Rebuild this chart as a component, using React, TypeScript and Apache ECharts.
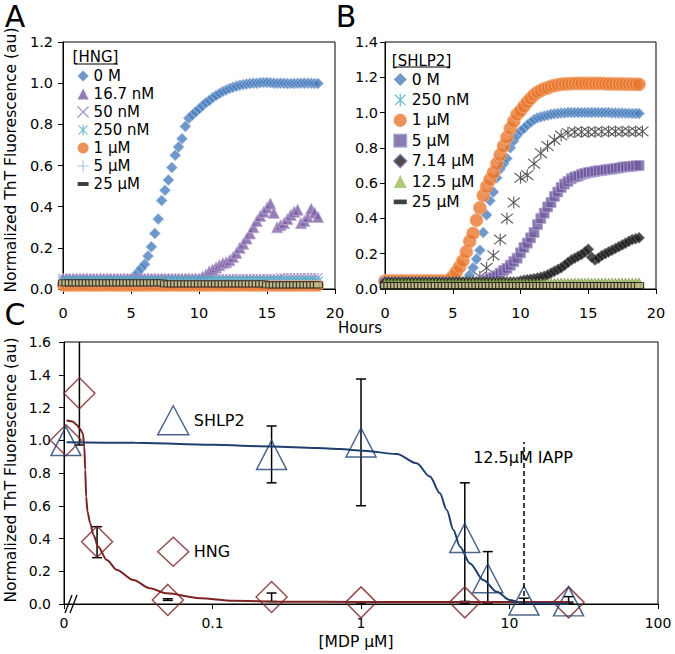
import React, { useEffect, useRef } from 'react';
import * as echarts from 'echarts';

const FONT = '"DejaVu Sans", "Liberation Sans", Arial, sans-serif';

// ---------- Panel A / B time grids (hours) ----------
const T_QUARTER = [
  0, 0.25, 0.5, 0.75, 1, 1.25, 1.5, 1.75, 2, 2.25,
  2.5, 2.75, 3, 3.25, 3.5, 3.75, 4, 4.25, 4.5, 4.75,
  5, 5.25, 5.5, 5.75, 6, 6.25, 6.5, 6.75, 7, 7.25,
  7.5, 7.75, 8, 8.25, 8.5, 8.75, 9, 9.25, 9.5, 9.75,
  10, 10.25, 10.5, 10.75, 11, 11.25, 11.5, 11.75, 12, 12.25,
  12.5, 12.75, 13, 13.25, 13.5, 13.75, 14, 14.25, 14.5, 14.75,
  15, 15.25, 15.5, 15.75, 16, 16.25, 16.5, 16.75, 17, 17.25,
  17.5, 17.75, 18, 18.25, 18.5, 18.75,
];
const T_HALF = [
  0, 0.5, 1, 1.5, 2, 2.5, 3, 3.5, 4, 4.5,
  5, 5.5, 6, 6.5, 7, 7.5, 8, 8.5, 9, 9.5,
  10, 10.5, 11, 11.5, 12, 12.5, 13, 13.5, 14, 14.5,
  15, 15.5, 16, 16.5, 17, 17.5, 18, 18.5, 19,
];

// ---------- Panel A : [HNG] ----------
const A_0M = [
  0.03, 0.03, 0.03, 0.03, 0.03, 0.03, 0.03, 0.03, 0.03, 0.03,
  0.03, 0.03, 0.03, 0.03, 0.03, 0.03, 0.03, 0.03, 0.03, 0.03,
  0.04, 0.06, 0.08, 0.10, 0.12, 0.16, 0.205, 0.27, 0.34, 0.43,
  0.48, 0.53, 0.59, 0.65, 0.69, 0.73, 0.79, 0.83, 0.845, 0.86,
  0.875, 0.89, 0.905, 0.915, 0.93, 0.94, 0.95, 0.96, 0.967, 0.974,
  0.98, 0.985, 0.99, 0.993, 0.996, 0.998, 1.0, 1.0, 1.002, 1.003,
  1.003, 1.002, 1.0, 1.0, 1.0, 0.999, 0.998, 0.998, 0.998, 0.999,
  1.0, 1.0, 1.0, 0.999, 0.998, 0.998,
];
const A_16_7NM = [
  0.05, 0.05, 0.05, 0.05, 0.05, 0.05, 0.05, 0.05, 0.05, 0.05,
  0.05, 0.05, 0.05, 0.05, 0.05, 0.05, 0.05, 0.05, 0.05, 0.05,
  0.05, 0.05, 0.05, 0.05, 0.05, 0.05, 0.05, 0.05, 0.05, 0.05,
  0.05, 0.05, 0.05, 0.05, 0.05, 0.05, 0.05, 0.05, 0.05, 0.05,
  0.05, 0.06, 0.07, 0.085, 0.095, 0.105, 0.115, 0.125, 0.13, 0.14,
  0.155, 0.175, 0.2, 0.22, 0.245, 0.27, 0.3, 0.33, 0.355, 0.375,
  0.395, 0.415, 0.37, 0.30, 0.31, 0.32, 0.34, 0.36, 0.375, 0.385,
  0.32, 0.33, 0.35, 0.39, 0.37, 0.35,
];
const A_50NM = [
  0.05, 0.05, 0.05, 0.05, 0.05, 0.05, 0.05, 0.05, 0.05, 0.05,
  0.05, 0.05, 0.05, 0.05, 0.05, 0.05, 0.05, 0.05, 0.05, 0.05,
  0.05, 0.05, 0.05, 0.05, 0.05, 0.05, 0.05, 0.05, 0.05, 0.05,
  0.05, 0.05, 0.05, 0.05, 0.05, 0.05, 0.05, 0.05, 0.05, 0.05,
  0.05, 0.05, 0.05, 0.05, 0.05, 0.05, 0.05, 0.05, 0.05, 0.05,
  0.05, 0.05, 0.05, 0.05, 0.05, 0.05, 0.05, 0.05, 0.05, 0.05,
  0.05, 0.05, 0.05, 0.05, 0.055, 0.055, 0.055, 0.055, 0.055, 0.055,
  0.055, 0.055, 0.055, 0.055, 0.055, 0.055,
];
const A_250NM = [
  0.04, 0.04, 0.04, 0.04, 0.04, 0.04, 0.04, 0.04, 0.04, 0.04,
  0.04, 0.04, 0.04, 0.04, 0.04, 0.04, 0.04, 0.04, 0.04, 0.04,
  0.04, 0.04, 0.04, 0.04, 0.04, 0.04, 0.04, 0.04, 0.04, 0.04,
  0.04, 0.04, 0.04, 0.04, 0.04, 0.04, 0.04, 0.04, 0.04, 0.04,
  0.04, 0.04, 0.04, 0.04, 0.04, 0.04, 0.04, 0.04, 0.04, 0.04,
  0.04, 0.04, 0.04, 0.04, 0.04, 0.04, 0.04, 0.04, 0.04, 0.04,
  0.04, 0.04, 0.04, 0.04, 0.04, 0.04, 0.04, 0.04, 0.04, 0.04,
  0.04, 0.04, 0.04, 0.04, 0.04, 0.04,
];
const A_1UM = [
  0.015, 0.015, 0.015, 0.015, 0.015, 0.015, 0.015, 0.015, 0.015, 0.015,
  0.015, 0.015, 0.015, 0.015, 0.015, 0.015, 0.015, 0.015, 0.015, 0.015,
  0.015, 0.015, 0.015, 0.015, 0.015, 0.015, 0.015, 0.015, 0.015, 0.015,
  0.015, 0.015, 0.015, 0.015, 0.015, 0.015, 0.015, 0.015, 0.015, 0.015,
  0.015, 0.015, 0.015, 0.015, 0.015, 0.015, 0.015, 0.015, 0.015, 0.015,
  0.015, 0.015, 0.015, 0.015, 0.015, 0.015, 0.015, 0.015, 0.015, 0.015,
  0.015, 0.015, 0.015, 0.015, 0.015, 0.015, 0.015, 0.015, 0.015, 0.015,
  0.015, 0.015, 0.015, 0.015, 0.015, 0.015,
];
const A_5UM = [
  0.03, 0.03, 0.03, 0.03, 0.03, 0.03, 0.03, 0.03, 0.03, 0.03,
  0.03, 0.03, 0.03, 0.03, 0.03, 0.03, 0.03, 0.03, 0.03, 0.03,
  0.03, 0.03, 0.03, 0.03, 0.03, 0.03, 0.03, 0.03, 0.03, 0.03,
  0.03, 0.03, 0.03, 0.03, 0.03, 0.03, 0.03, 0.03, 0.03, 0.03,
  0.03, 0.03, 0.03, 0.03, 0.03, 0.03, 0.03, 0.03, 0.03, 0.03,
  0.03, 0.03, 0.03, 0.03, 0.03, 0.03, 0.03, 0.03, 0.03, 0.03,
  0.03, 0.03, 0.03, 0.03, 0.03, 0.03, 0.03, 0.03, 0.03, 0.03,
  0.03, 0.03, 0.03, 0.03, 0.03, 0.03,
];
const A_25UM = [
  0.03, 0.03, 0.03, 0.03, 0.03, 0.03, 0.03, 0.03, 0.03, 0.03,
  0.03, 0.03, 0.03, 0.03, 0.03, 0.03, 0.03, 0.03, 0.03, 0.03,
  0.03, 0.03, 0.03, 0.03, 0.03, 0.03, 0.03, 0.03, 0.03, 0.03,
  0.025, 0.025, 0.025, 0.025, 0.025, 0.025, 0.025, 0.025, 0.025, 0.025,
  0.025, 0.025, 0.025, 0.025, 0.025, 0.025, 0.025, 0.025, 0.025, 0.025,
  0.025, 0.025, 0.025, 0.025, 0.025, 0.025, 0.025, 0.025, 0.025, 0.025,
  0.02, 0.02, 0.02, 0.02, 0.02, 0.02, 0.02, 0.02, 0.02, 0.02,
  0.02, 0.02, 0.02, 0.02, 0.02, 0.02,
];

// ---------- Panel B : [SHLP2] ----------
const B_0M = [
  0.035, 0.035, 0.035, 0.035, 0.035, 0.035, 0.035, 0.035, 0.035, 0.035,
  0.035, 0.035, 0.035, 0.035, 0.035, 0.035, 0.035, 0.035, 0.035, 0.035,
  0.035, 0.035, 0.035, 0.035, 0.05, 0.08, 0.12, 0.17, 0.22, 0.32,
  0.42, 0.5, 0.55, 0.63, 0.68, 0.71, 0.74, 0.8, 0.84, 0.87,
  0.895, 0.91, 0.93, 0.945, 0.96, 0.97, 0.975, 0.98, 0.985, 0.99,
  0.993, 0.995, 0.997, 0.998, 1.0, 1.0, 1.0, 1.0, 1.0, 1.0,
  1.0, 1.0, 1.0, 1.0, 1.0, 1.0, 1.0, 0.998, 0.998, 0.997,
  0.997, 0.996, 0.996, 0.995, 0.995, 0.995,
];
const B_250NM = [
  0.035, 0.035, 0.035, 0.035, 0.035, 0.035, 0.035, 0.035, 0.035, 0.035,
  0.035, 0.035, 0.035, 0.04, 0.07, 0.12, 0.19, 0.28, 0.40, 0.49,
  0.63, 0.645, 0.71, 0.77, 0.81, 0.845, 0.87, 0.885, 0.89, 0.89,
  0.89, 0.89, 0.892, 0.893, 0.893, 0.893, 0.893, 0.893, 0.893,
];
const B_1UM = [
  0.045, 0.045, 0.045, 0.045, 0.045, 0.045, 0.045, 0.045, 0.045, 0.045,
  0.045, 0.045, 0.045, 0.045, 0.045, 0.045, 0.045, 0.045, 0.045, 0.05,
  0.07, 0.095, 0.125, 0.16, 0.21, 0.27, 0.315, 0.39, 0.46, 0.53,
  0.58, 0.62, 0.66, 0.71, 0.76, 0.81, 0.86, 0.91, 0.95, 0.99,
  1.01, 1.035, 1.06, 1.08, 1.10, 1.115, 1.125, 1.135, 1.14, 1.148,
  1.153, 1.157, 1.16, 1.162, 1.163, 1.164, 1.165, 1.165, 1.165, 1.165,
  1.165, 1.165, 1.165, 1.165, 1.165, 1.164, 1.163, 1.163, 1.162, 1.162,
  1.162, 1.161, 1.161, 1.16, 1.16, 1.16,
];
const B_5UM = [
  0.035, 0.035, 0.035, 0.035, 0.035, 0.035, 0.035, 0.035, 0.035, 0.035,
  0.035, 0.035, 0.035, 0.035, 0.035, 0.035, 0.035, 0.035, 0.035, 0.035,
  0.035, 0.035, 0.035, 0.035, 0.035, 0.035, 0.035, 0.037, 0.04, 0.045,
  0.05, 0.06, 0.065, 0.075, 0.09, 0.105, 0.117, 0.135, 0.155, 0.175,
  0.205, 0.235, 0.26, 0.29, 0.32, 0.365, 0.4, 0.43, 0.465, 0.49,
  0.525, 0.55, 0.575, 0.595, 0.61, 0.625, 0.635, 0.64, 0.65, 0.655,
  0.66, 0.663, 0.667, 0.67, 0.672, 0.675, 0.678, 0.68, 0.683, 0.686,
  0.69, 0.692, 0.694, 0.696, 0.698, 0.70,
];
const B_7_14UM = [
  0.04, 0.04, 0.04, 0.04, 0.04, 0.04, 0.04, 0.04, 0.04, 0.04,
  0.04, 0.04, 0.04, 0.04, 0.04, 0.04, 0.04, 0.04, 0.04, 0.04,
  0.04, 0.04, 0.04, 0.04, 0.04, 0.04, 0.04, 0.04, 0.04, 0.04,
  0.04, 0.04, 0.04, 0.04, 0.04, 0.04, 0.04, 0.04, 0.04, 0.04,
  0.045, 0.05, 0.052, 0.055, 0.058, 0.062, 0.067, 0.072, 0.08, 0.09,
  0.1, 0.11, 0.12, 0.135, 0.15, 0.165, 0.175, 0.185, 0.195, 0.21,
  0.225, 0.18, 0.165, 0.175, 0.19, 0.2, 0.21, 0.22, 0.23, 0.24,
  0.25, 0.26, 0.27, 0.28, 0.285, 0.29,
];
const B_12_5UM = [
  0.03, 0.03, 0.03, 0.03, 0.03, 0.03, 0.03, 0.03, 0.03, 0.03,
  0.03, 0.03, 0.03, 0.03, 0.03, 0.03, 0.03, 0.03, 0.03, 0.03,
  0.03, 0.03, 0.03, 0.03, 0.03, 0.03, 0.03, 0.03, 0.03, 0.03,
  0.03, 0.03, 0.03, 0.03, 0.03, 0.03, 0.03, 0.03, 0.03, 0.03,
  0.03, 0.03, 0.03, 0.03, 0.03, 0.03, 0.03, 0.03, 0.03, 0.03,
  0.033, 0.033, 0.033, 0.033, 0.033, 0.033, 0.033, 0.033, 0.033, 0.033,
  0.033, 0.033, 0.033, 0.033, 0.033, 0.033, 0.033, 0.033, 0.033, 0.033,
  0.033, 0.033, 0.033, 0.033, 0.033, 0.033,
];
const B_25UM = [
  0.02, 0.02, 0.02, 0.02, 0.02, 0.02, 0.02, 0.02, 0.02, 0.02,
  0.02, 0.02, 0.02, 0.02, 0.02, 0.02, 0.02, 0.02, 0.02, 0.02,
  0.02, 0.02, 0.02, 0.02, 0.02, 0.02, 0.02, 0.02, 0.02, 0.02,
  0.02, 0.02, 0.02, 0.02, 0.02, 0.02, 0.02, 0.02, 0.02, 0.02,
  0.02, 0.02, 0.02, 0.02, 0.02, 0.02, 0.02, 0.02, 0.02, 0.02,
  0.02, 0.02, 0.02, 0.02, 0.02, 0.02, 0.02, 0.02, 0.02, 0.02,
  0.02, 0.02, 0.02, 0.02, 0.02, 0.02, 0.02, 0.02, 0.02, 0.02,
  0.02, 0.02, 0.02, 0.02, 0.02, 0.02,
];

// ---------- Panel C : dose response ([MDP µM], log scale) ----------
// concentration 0 is drawn at the axis start (after the "//" break)
const C_TICKS = [0.01, 0.1, 1, 10, 100];
const C_TICK_LABELS = ['0', '0.1', '1', '10', '100'];

const HNG_X = [0.0103, 0.0127, 0.0167, 0.05, 0.25, 1, 5, 25];
const HNG_Y = [1.0, 1.287, 0.38, 0.025, 0.043, 0.01, 0.01, 0.01];
const HNG_LO = [1.0, 0.971, 0.283, 0.022, 0.015, 0.0, 0.008, 0.0];
const HNG_HI = [1.0, 1.6, 0.472, 0.032, 0.067, 0.012, 0.016, 0.012];
const HNG_TOPCAP = [0, 0, 1, 1, 1, 1, 1, 1];

const SHLP2_X = [0.0103, 0.25, 1, 5, 7.14, 12.5, 25];
const SHLP2_Y = [0.995, 0.91, 0.986, 0.403, 0.157, 0.021, 0.016];
const SHLP2_LO = [0.995, 0.74, 0.60, 0.006, 0.006, 0.01, 0.0];
const SHLP2_HI = [0.995, 1.087, 1.374, 0.74, 0.32, 0.035, 0.045];

const HNG_FIT_X = [0.0104, 0.0114, 0.0122, 0.0128, 0.0134, 0.0137, 0.0139, 0.0141, 0.0144, 0.015, 0.0158, 0.017, 0.0194, 0.0227, 0.0293, 0.0379, 0.0492, 0.0824, 0.1375, 0.2985, 1, 5, 25];
const HNG_FIT_Y = [1.12, 1.115, 1.093, 1.07, 1.042, 0.96, 0.818, 0.655, 0.564, 0.493, 0.421, 0.35, 0.269, 0.208, 0.147, 0.096, 0.065, 0.035, 0.02, 0.014, 0.012, 0.012, 0.012];

const SHLP2_FIT_X = [0.0104, 0.03, 0.1, 0.25, 0.5, 0.72, 1.04, 1.74, 2.37, 2.91, 3.4, 3.78, 4.19, 4.64, 5.42, 6.66, 8.2, 10.1, 12.4, 25];
const SHLP2_FIT_Y = [0.988, 0.984, 0.972, 0.962, 0.952, 0.946, 0.936, 0.916, 0.859, 0.778, 0.676, 0.574, 0.452, 0.35, 0.248, 0.147, 0.075, 0.024, 0.004, 0.0];

const IAPP_LINE_X = 12.5;
const IAPP_LINE_TOP = 0.99;

// ---------- helpers ----------
const lg = (v: number) => Math.log10(v);

function pairs(xs: number[], ys: number[]) {
  const n = Math.min(xs.length, ys.length);
  const out: number[][] = [];
  for (let i = 0; i < n; i++) out.push([xs[i], ys[i]]);
  return out;
}
function logPairs(xs: number[], ys: number[]) {
  return pairs(xs.map(lg), ys);
}
function errRows(xs: number[], lo: number[], hi: number[], top?: number[]) {
  const out: number[][] = [];
  for (let i = 0; i < xs.length; i++) {
    if (hi[i] - lo[i] > 0) out.push([lg(xs[i]), lo[i], hi[i], top ? top[i] : 1]);
  }
  return out;
}

const SYM_X = 'path://M0,0L10,10M10,0L0,10';
const SYM_AST = 'path://M5,0L5,10M1,1L9,9M1,9L9,1';
const SYM_PLUS = 'path://M5,0L5,10M0,5L10,5';
const SYM_DASH = 'path://M0,0M10,10M0,3.2L10,3.2L10,6.8L0,6.8Z';

const CLEAR = 'rgba(0,0,0,0)';
const BLUE = '#4A7EBB';
const PURPLE = '#7A5EA2';
const ORANGE = '#E8772E';
const TEAL = '#4BACC6';
const GREEN = '#9BBB59';
const HNG_RED = '#7B2424';
const SHLP_BLUE = '#1F3F6F';

function sc(name: string, data: number[][], g: number, symbol: string, size: any, itemStyle: any) {
  return {
    type: 'scatter', name, xAxisIndex: g, yAxisIndex: g, data, symbol, symbolSize: size,
    itemStyle, silent: true, clip: false,
  };
}

function timeAxis(g: number) {
  return {
    gridIndex: g, type: 'value', min: 0, max: 20, interval: 5,
    axisLine: { show: true, onZero: false, lineStyle: { color: '#000', width: 1 } },
    axisTick: { show: true, length: 5, lineStyle: { color: '#000' } },
    axisLabel: { color: '#000', fontSize: 14.5, fontFamily: FONT, margin: 16 },
    splitLine: { show: false },
  };
}
function valAxis(g: number, max: number, margin: number, fs: number) {
  return {
    gridIndex: g, type: 'value', min: 0, max, interval: 0.2,
    axisLine: { show: true, onZero: false, lineStyle: { color: '#000', width: 1 } },
    axisTick: { show: true, length: 5, lineStyle: { color: '#000' } },
    axisLabel: { color: '#000', fontSize: fs, fontFamily: FONT, margin, formatter: (v: number) => v.toFixed(1) },
    splitLine: { show: false },
  };
}

function txt(text: string, x: number, y: number, size: number, rotation = 0) {
  return {
    type: 'text', x, y, rotation, silent: true,
    style: { text, fontSize: size, fontFamily: FONT, fill: '#000', align: 'center', verticalAlign: 'middle' },
  };
}
function ln(x1: number, y1: number, x2: number, y2: number, w = 1) {
  return { type: 'line', silent: true, shape: { x1, y1, x2, y2 }, style: { stroke: '#000', lineWidth: w } };
}

export default function App() {
  const ref = useRef<HTMLDivElement>(null);

  useEffect(() => {
    document.body.style.margin = '0';
    if (!ref.current) return;
    const chart = echarts.init(ref.current, null, { renderer: 'svg' });

    const tanRect = { color: '#C4BC8A', borderColor: '#1a1a1a', borderWidth: 1 };
    const cMin = lg(C_TICKS[0]);
    const cMax = lg(C_TICKS[C_TICKS.length - 1]);
    const gridBase = { show: true, borderColor: '#000', borderWidth: 1, containLabel: false, outerBoundsMode: 'none' };

    const option: any = {
      animation: false,
      backgroundColor: '#fff',
      grid: [
        { ...gridBase, left: 63, top: 42, width: 272, height: 247 },
        { ...gridBase, left: 385, top: 42, width: 271, height: 247 },
        { ...gridBase, left: 64, top: 342, width: 594, height: 262 },
      ],
      xAxis: [
        timeAxis(0),
        timeAxis(1),
        {
          // log10 scale: ticks at decades
          gridIndex: 2, type: 'value', min: cMin, max: cMax, interval: 1,
          axisLine: { show: true, onZero: false, lineStyle: { color: '#000', width: 1 } },
          axisTick: { show: true, length: 5, lineStyle: { color: '#000' } },
          axisLabel: {
            color: '#000', fontSize: 14, fontFamily: FONT, margin: 12,
            formatter: (v: number) => {
              const i = C_TICKS.findIndex((t) => Math.abs(lg(t) - v) < 1e-6);
              return i >= 0 ? C_TICK_LABELS[i] : '';
            },
          },
          splitLine: { show: false },
        },
      ],
      yAxis: [
        valAxis(0, 1.2, 10, 14.5),
        valAxis(1, 1.4, 7, 14.5),
        valAxis(2, 1.6, 13, 14),
      ],
      legend: [
        {
          left: 77, top: 68, orient: 'vertical', padding: 0, itemWidth: 11, itemHeight: 11, itemGap: 2,
          selectedMode: false,
          textStyle: { color: '#000', fontSize: 15, fontFamily: FONT, lineHeight: 16 },
          data: [
            { name: '0 M', icon: 'diamond', itemStyle: { color: BLUE, borderWidth: 0 } },
            { name: '16.7 nM', icon: 'triangle', itemStyle: { color: PURPLE, borderWidth: 0 } },
            { name: '50 nM', icon: SYM_X, itemStyle: { color: CLEAR, borderColor: '#8F7AB8', borderWidth: 1.2 } },
            { name: '250 nM', icon: SYM_AST, itemStyle: { color: CLEAR, borderColor: TEAL, borderWidth: 1.2 } },
            { name: '1 µM', icon: 'circle', itemStyle: { color: ORANGE, borderWidth: 0 } },
            { name: '5 µM', icon: SYM_PLUS, itemStyle: { color: CLEAR, borderColor: '#95B3D7', borderWidth: 1.2 } },
            { name: '25 µM', icon: SYM_DASH, itemStyle: { color: '#111', borderWidth: 0 } },
          ],
        },
        {
          left: 393, top: 71, orient: 'vertical', padding: 0, itemWidth: 13, itemHeight: 13, itemGap: 3.4,
          selectedMode: false,
          textStyle: { color: '#000', fontSize: 15.5, fontFamily: FONT, lineHeight: 17 },
          data: [
            { name: '0 M', icon: 'diamond', itemStyle: { color: BLUE, borderWidth: 0 } },
            { name: '250 nM', icon: SYM_AST, itemStyle: { color: CLEAR, borderColor: TEAL, borderWidth: 1.3 } },
            { name: '1 µM', icon: 'circle', itemStyle: { color: ORANGE, borderWidth: 0 } },
            { name: '5 µM', icon: 'rect', itemStyle: { color: '#6E5A9E', borderColor: '#9DB7DD', borderWidth: 1.2 } },
            { name: '7.14 µM', icon: 'diamond', itemStyle: { color: '#1E1E1E', borderColor: '#8064A2', borderWidth: 1.5 } },
            { name: '12.5 µM', icon: 'triangle', itemStyle: { color: GREEN, borderWidth: 0 } },
            { name: '25 µM', icon: SYM_DASH, itemStyle: { color: '#111', borderWidth: 0 } },
          ],
        },
        {
          left: 157, top: 405, orient: 'vertical', padding: 0, itemWidth: 31, itemHeight: 29, itemGap: 101,
          selectedMode: false,
          textStyle: { color: '#000', fontSize: 16, fontFamily: FONT },
          data: [
            { name: 'SHLP2', icon: 'triangle', itemStyle: { color: CLEAR, borderColor: SHLP_BLUE, borderWidth: 1.5 } },
            { name: 'HNG', icon: 'diamond', itemStyle: { color: CLEAR, borderColor: HNG_RED, borderWidth: 1.5 } },
          ],
        },
      ],
      series: [
        // Panel A
        sc('0 M', pairs(T_QUARTER, A_0M), 0, 'diamond', 11, { color: BLUE, borderColor: '#A7C0E3', borderWidth: 1 }),
        sc('16.7 nM', pairs(T_QUARTER, A_16_7NM), 0, 'triangle', 11, { color: PURPLE, borderColor: '#B8A8D2', borderWidth: 1 }),
        sc('50 nM', pairs(T_QUARTER, A_50NM), 0, SYM_X, 9, { color: CLEAR, borderColor: '#9A86BE', borderWidth: 1.2 }),
        sc('250 nM', pairs(T_QUARTER, A_250NM), 0, SYM_AST, 10, { color: CLEAR, borderColor: TEAL, borderWidth: 1.2 }),
        sc('1 µM', pairs(T_QUARTER, A_1UM), 0, 'circle', 11, { color: ORANGE, borderColor: '#F5B183', borderWidth: 1 }),
        sc('5 µM', pairs(T_QUARTER, A_5UM), 0, SYM_PLUS, 9, { color: CLEAR, borderColor: '#95B3D7', borderWidth: 1.2 }),
        sc('25 µM', pairs(T_QUARTER, A_25UM), 0, 'rect', [9, 6], tanRect),
        // Panel B
        sc('0 M', pairs(T_QUARTER, B_0M), 1, 'diamond', 11, { color: BLUE, borderColor: '#A7C0E3', borderWidth: 1 }),
        sc('250 nM', pairs(T_HALF, B_250NM), 1, SYM_AST, 12, { color: CLEAR, borderColor: '#333', borderWidth: 1.1 }),
        sc('1 µM', pairs(T_QUARTER, B_1UM), 1, 'circle', 13, { color: ORANGE, borderColor: '#F5B183', borderWidth: 1 }),
        sc('5 µM', pairs(T_QUARTER, B_5UM), 1, 'rect', 10, { color: '#6E5A9E', borderColor: '#B0A4CF', borderWidth: 1 }),
        sc('7.14 µM', pairs(T_QUARTER, B_7_14UM), 1, 'diamond', 11, { color: '#1E1E1E', borderColor: '#777', borderWidth: 0.8 }),
        sc('12.5 µM', pairs(T_QUARTER, B_12_5UM), 1, 'triangle', 10, { color: GREEN, borderColor: '#6F8F35', borderWidth: 0.8 }),
        sc('25 µM', pairs(T_QUARTER, B_25UM), 1, 'rect', [9, 6], tanRect),
        // Panel C fits
        {
          type: 'line', name: 'HNG fit', xAxisIndex: 2, yAxisIndex: 2, data: logPairs(HNG_FIT_X, HNG_FIT_Y),
          showSymbol: false, symbol: 'none', smooth: 0.3, smoothMonotone: 'x', silent: true,
          lineStyle: { color: HNG_RED, width: 2 },
        },
        {
          type: 'line', name: 'SHLP2 fit', xAxisIndex: 2, yAxisIndex: 2, data: logPairs(SHLP2_FIT_X, SHLP2_FIT_Y),
          showSymbol: false, symbol: 'none', smooth: 0.3, smoothMonotone: 'x', silent: true,
          lineStyle: { color: SHLP_BLUE, width: 2 },
          markLine: {
            silent: true, symbol: ['none', 'none'], label: { show: false },
            lineStyle: { color: '#000', width: 1.5, type: [5, 3] },
            data: [[{ coord: [lg(IAPP_LINE_X), 0] }, { coord: [lg(IAPP_LINE_X), IAPP_LINE_TOP] }]],
          },
        },
        // error bars
        {
          type: 'custom', name: 'err', xAxisIndex: 2, yAxisIndex: 2, silent: true,
          data: errRows(HNG_X, HNG_LO, HNG_HI, HNG_TOPCAP).concat(errRows(SHLP2_X, SHLP2_LO, SHLP2_HI)),
          encode: { x: 0, y: [1, 2] },
          renderItem: (params: any, api: any) => {
            const x = api.value(0), lo = api.value(1), hi = api.value(2), cap = api.value(3);
            const a = api.coord([x, lo]);
            const b = api.coord([x, hi]);
            const st = { stroke: '#000', lineWidth: 1.5 };
            const w = 5;
            const children: any[] = [
              { type: 'line', shape: { x1: a[0], y1: a[1], x2: b[0], y2: b[1] }, style: st },
              { type: 'line', shape: { x1: a[0] - w, y1: a[1], x2: a[0] + w, y2: a[1] }, style: st },
            ];
            if (cap) children.push({ type: 'line', shape: { x1: b[0] - w, y1: b[1], x2: b[0] + w, y2: b[1] }, style: st });
            return { type: 'group', children };
          },
        },
        // Panel C markers
        sc('HNG', logPairs(HNG_X, HNG_Y), 2, 'diamond', [31, 31], { color: CLEAR, borderColor: HNG_RED, borderWidth: 1.5 }),
        sc('SHLP2', logPairs(SHLP2_X, SHLP2_Y), 2, 'triangle', [30, 29], { color: CLEAR, borderColor: SHLP_BLUE, borderWidth: 1.5 }),
      ],
      graphic: [
        txt('A', 15, 16, 30),
        txt('B', 346, 16, 30),
        txt('C', 15, 314, 30),
        txt('Normalized ThT Fluorescence (au)', 11, 160, 15.5, Math.PI / 2),
        txt('Normalized ThT Fluorescence (au)', 11, 470, 15.5, Math.PI / 2),
        txt('[HNG]', 95.5, 57, 15),
        ln(75, 64, 118, 64, 1),
        txt('[SHLP2]', 421.5, 61, 15),
        ln(395, 67, 450, 67, 1),
        txt('Hours', 360, 328, 15),
        txt('[MDP µM]', 356, 642, 15.5),
        txt('12.5µM IAPP', 523, 457, 16),
        ln(65, 613, 72, 595, 1.3),
        ln(70, 613, 77, 595, 1.3),
      ],
    };

    chart.setOption(option);
    return () => chart.dispose();
  }, []);

  return <div ref={ref} style={{ width: 675, height: 654 }} />;
}
